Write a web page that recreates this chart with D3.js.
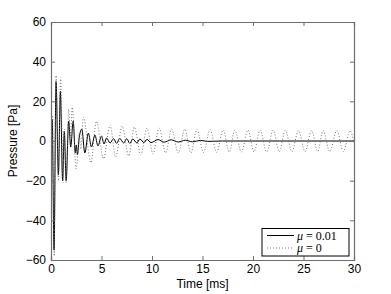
<!DOCTYPE html>
<html>
<head>
<meta charset="utf-8">
<script src="https://cdn.jsdelivr.net/npm/d3@7"></script>
<style>
  html, body { margin: 0; padding: 0; background: #fff; }
  svg { display: block; }
</style>
</head>
<body>
<script>
// Extrema of the pressure traces (t in ms, p in Pa)
const solidT = [0, 0.12, 0.3, 0.5, 0.73, 0.93, 1.15, 1.32, 1.5, 1.75, 1.95, 2.2, 2.4, 2.5, 2.62, 2.8, 3.05, 3.35, 3.7, 4.0, 4.35, 4.65, 5.0, 5.25, 5.5, 5.85, 6.2, 6.5, 6.8, 7.2, 7.5, 7.8, 8.1, 8.5, 8.8, 9.2, 9.5, 9.9, 10.6, 11.2, 11.9, 12.6, 13.3, 14.0, 14.8, 15.5, 17.0, 30.0];
const solidP = [0, 11, -55, 30, -17, 25, -20, 5, -20, 10, -3, 10, -6, -2, -7, 2, 6, -6, 4, -3, 3, -2.5, 2.5, -1.5, 1.5, -1, 1.2, -1.2, 1.3, -1, 1.2, -1.2, 1.0, -1.0, 1.0, -0.8, 0.8, -0.8, 0.7, -0.6, 0.6, -0.5, 0.4, -0.4, 0.3, -0.2, 0, 0];

const dottedT = [0, 0.15, 0.32, 0.5, 0.73, 0.95, 1.2, 1.32, 1.5, 1.75, 1.95, 2.1, 2.5, 2.8, 2.95, 3.2, 3.95, 4.5, 5.2, 5.85, 6.4, 7.05, 7.7, 8.25, 8.9, 9.5, 10.1, 10.7, 11.35, 11.95, 12.6, 13.25, 13.85, 14.45, 15.1, 15.75, 16.4, 17.05, 17.65, 18.2, 18.85, 19.5, 20.1, 20.7, 21.35, 22.0, 22.6, 23.2, 23.85, 24.5, 25.15, 25.8, 26.4, 26.95, 27.6, 28.3, 28.95, 29.6, 30.0];
const dottedP = [0, 13, -58, 33, -20, 32, -21, 6, -21, 16, 2, 17, -14, 4, -4, 12, -11, 10, -9, 8, -8, 7.5, -7.5, 7, -7, 6.5, -6.5, 6.5, -6, 6, -6, 6, -6, 5.8, -5.8, 5.7, -5.7, 5.6, -5.6, 5.5, -5.6, 5.5, -5.5, 5.5, -5.5, 5.4, -5.4, 5.4, -5.4, 5.3, -5.4, 5.3, -5.3, 5.3, -5.3, 5.2, -5.3, 5.2, -1];

const xTicks = [0, 5, 10, 15, 20, 25, 30];
const yTicks = [-60, -40, -20, 0, 20, 40, 60];
const seriesNames = ["0.01", "0"];

const W = 391, H = 294;
const m = { left: 51, right: 354, top: 22, bottom: 260 };

const svg = d3.select("body").append("svg").attr("width", W).attr("height", H);
svg.append("rect").attr("width", W).attr("height", H).attr("fill", "#fff");

const x = d3.scaleLinear().domain([0, 30]).range([m.left, m.right]);
const y = d3.scaleLinear().domain([-60, 60]).range([m.bottom, m.top]);

const font = "'Liberation Sans', Arial, Helvetica, sans-serif";
const frameColor = "#6e6e6e";

// traces
svg.append("clipPath").attr("id", "clip").append("rect")
  .attr("x", m.left).attr("y", m.top).attr("width", m.right - m.left).attr("height", m.bottom - m.top);

const line = d3.line().x(d => x(d[0])).y(d => y(d[1])).curve(d3.curveMonotoneX);
const solidData = solidT.map((t, i) => [t, solidP[i]]);
const dottedData = dottedT.map((t, i) => [t, dottedP[i]]);

const g = svg.append("g").attr("clip-path", "url(#clip)");
g.append("path").datum(solidData).attr("d", line)
  .attr("fill", "none").attr("stroke", "#000").attr("stroke-width", 1);
g.append("path").datum(dottedData).attr("d", line)
  .attr("fill", "none").attr("stroke", "#666").attr("stroke-width", 0.9)
  .attr("stroke-dasharray", "1,2");

// axes (ticks inward, box)
const tl = 4;
const xb = svg.append("g").attr("transform", `translate(0,${m.bottom})`)
  .call(d3.axisBottom(x).tickValues(xTicks).tickSize(-tl).tickPadding(4).tickFormat(d3.format("d")));
const xt = svg.append("g").attr("transform", `translate(0,${m.top})`)
  .call(d3.axisTop(x).tickValues(xTicks).tickSize(-tl).tickFormat(""));
const yl = svg.append("g").attr("transform", `translate(${m.left},0)`)
  .call(d3.axisLeft(y).tickValues(yTicks).tickSize(-tl).tickPadding(5)
    .tickFormat(d => d < 0 ? "\u2212" + Math.abs(d) : String(d)));
const yr = svg.append("g").attr("transform", `translate(${m.right},0)`)
  .call(d3.axisRight(y).tickValues(yTicks).tickSize(-tl).tickFormat(""));

[xb, xt, yl, yr].forEach(a => {
  a.select(".domain").attr("stroke", frameColor).attr("stroke-width", 1.2);
  a.selectAll(".tick line").attr("stroke", frameColor);
  a.selectAll("text").attr("font-family", font).attr("font-size", 12).attr("fill", "#000");
});

// axis labels
svg.append("text").attr("x", (m.left + m.right) / 2).attr("y", 288)
  .attr("text-anchor", "middle").attr("font-family", font).attr("font-size", 12)
  .text("Time [ms]");
svg.append("text").attr("transform", `translate(17,${(m.top + m.bottom) / 2}) rotate(-90)`)
  .attr("text-anchor", "middle").attr("font-family", font).attr("font-size", 12)
  .text("Pressure [Pa]");

// legend
const lg = svg.append("g");
lg.append("rect").attr("x", 262).attr("y", 228.5).attr("width", 87).attr("height", 27.5)
  .attr("fill", "#fff").attr("stroke", "#000").attr("stroke-width", 1);
const serif = "'Liberation Serif', 'DejaVu Serif', serif";
seriesNames.forEach((name, i) => {
  const yy = 235.5 + i * 12.5;
  lg.append("line").attr("x1", 267).attr("x2", 294).attr("y1", yy).attr("y2", yy)
    .attr("stroke", i === 0 ? "#000" : "#666").attr("stroke-width", i === 0 ? 1 : 0.9)
    .attr("stroke-dasharray", i === 0 ? null : "1,2");
  const t = lg.append("text").attr("x", 297).attr("y", yy + 4)
    .attr("font-family", serif).attr("font-size", 12);
  t.append("tspan").attr("font-style", "italic").text("\u03bc");
  t.append("tspan").text(" = " + name);
});
</script>
</body>
</html>
